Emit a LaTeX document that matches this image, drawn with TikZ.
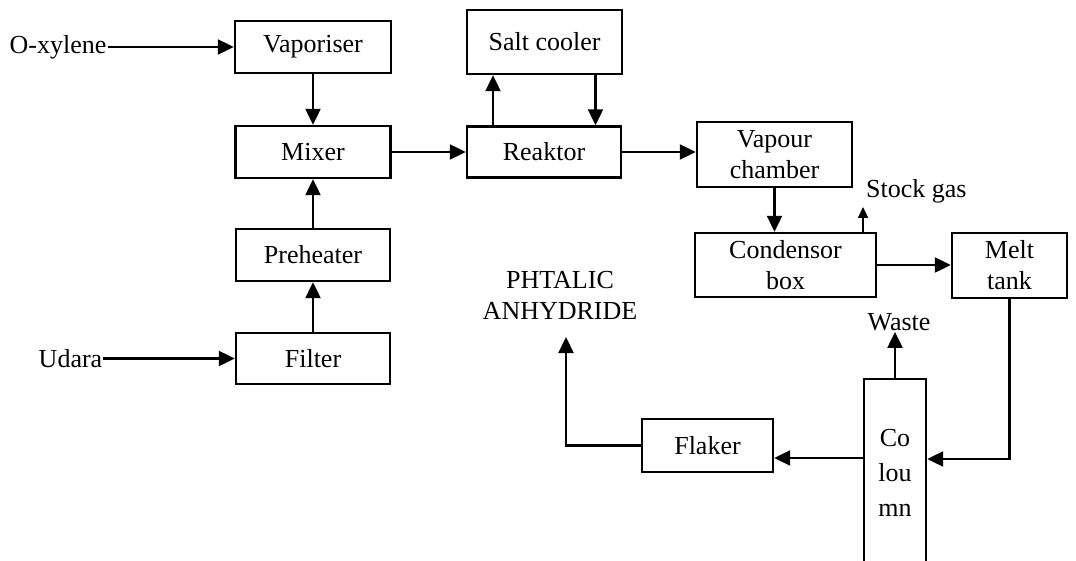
\documentclass[tikz,border=0pt]{standalone}
\usepackage{fontspec}
\setmainfont{Liberation Serif}
\usetikzlibrary{arrows.meta}
\begin{document}
\begin{tikzpicture}[x=1pt, y=-1pt, >={Triangle[length=16pt,width=15pt]},
    font=\fontsize{26}{31}\selectfont,
    blok/.style={draw, line width=2.4pt, inner sep=0pt, align=center},
    tekst/.style={inner sep=1pt, align=center},
    aliran/.style={->, line width=2.2pt}]
  \useasboundingbox (0,0) rectangle (1076,561);
  \node[blok, minimum width=156pt, minimum height=52pt] (vap) at (313,47) {Vaporiser};
  \node[blok, minimum width=155pt, minimum height=52pt] (mix) at (313,152) {Mixer};
  \node[blok, minimum width=154pt, minimum height=52pt] (pre) at (313,255) {Preheater};
  \node[blok, minimum width=154pt, minimum height=51pt] (fil) at (313,358.5) {Filter};
  \node[blok, minimum width=155pt, minimum height=64pt] (salt) at (544.5,42) {Salt cooler};
  \node[blok, minimum width=154pt, minimum height=51pt] (rea) at (544,152) {Reaktor};
  \node[blok, minimum width=155pt, minimum height=65pt] (vch) at (774.5,154.5) {Vapour\\chamber};
  \node[blok, minimum width=181pt, minimum height=64pt] (cond) at (785.5,265) {Condensor\\box};
  \node[blok, minimum width=115pt, minimum height=65pt] (melt) at (1009.5,265.5) {Melt\\tank};
  \node[blok, minimum width=62pt, minimum height=187pt, font=\fontsize{26}{35}\selectfont] (col) at (895,472.5) {Co\\lou\\mn};
  \node[blok, minimum width=131pt, minimum height=53pt] (flak) at (707.5,445.5) {Flaker};

  \node[tekst] (oxy) at (58,47) {O-xylene};
  \node[tekst] (udara) at (70.5,358.5) {Udara};
  \node[tekst, anchor=base west] (stock) at (865,198) {Stock gas};
  \node[tekst] (waste) at (899,322) {Waste};
  \node[tekst] (phth) at (560,295) {PHTALIC\\ANHYDRIDE};

  \coordinate (rs) at ([xshift=-51pt]rea.north);
  \coordinate (sr) at ([xshift=51pt]salt.south);
  \coordinate (sg) at (863,207);
  \coordinate (ci) at ([yshift=13.5pt]col.east);
  \coordinate (co) at ([yshift=14.5pt]col.west);
  \coordinate (pa) at (566,337);

  \draw[aliran] (oxy) -- (vap);
  \draw[aliran] (udara) -- (fil);
  \draw[aliran] (vap) -- (mix);
  \draw[aliran] (fil) -- (pre);
  \draw[aliran] (pre) -- (mix);
  \draw[aliran] (mix) -- (rea);
  \draw[aliran] (rs) -- (rs |- salt.south);
  \draw[aliran] (sr) -- (sr |- rea.north);
  \draw[aliran] (rea.east) -- (rea.east -| vch.west);
  \draw[aliran] (vch.south) -- (vch.south |- cond.north);
  \draw[aliran, >={Triangle[length=11pt,width=10pt]}] (sg |- cond.north) -- (sg);
  \draw[aliran] (cond.east) -- (cond.east -| melt.west);
  \draw[aliran] (melt.south) |- (ci);
  \draw[aliran] (co) -- (co -| flak.east);
  \draw[aliran] (col.north) -- (col.north |- waste.south);
  \draw[aliran] (flak.west) -| (pa);
\end{tikzpicture}
\end{document}
